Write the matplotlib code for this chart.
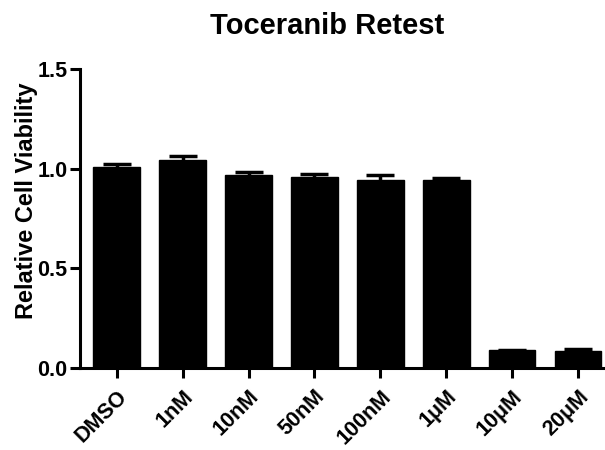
import numpy as np
import matplotlib
matplotlib.use("Agg")
import matplotlib.pyplot as plt

# Data
labels = ["DMSO", "1nM", "10nM", "50nM", "100nM", "1\u03bcM", "10\u03bcM", "20\u03bcM"]
viability = [1.007, 1.044, 0.967, 0.960, 0.943, 0.943, 0.090, 0.084]
sem = [0.015, 0.021, 0.016, 0.012, 0.027, 0.009, 0.003, 0.010]

plt.rcParams['font.family'] = ['Liberation Sans', 'DejaVu Sans']
plt.rcParams['font.weight'] = 'bold'

fig = plt.figure(figsize=(6.05, 4.5), dpi=100)
ax = fig.add_axes([0.132, 0.182, 0.868, 0.665])

x = np.arange(len(labels))
ax.bar(x, viability, width=0.71, color="black", edgecolor="black",
       yerr=sem, error_kw=dict(ecolor="black", elinewidth=2.5, capsize=10, capthick=2.5))

ax.set_ylim(0, 1.5)
ax.set_xlim(-0.56, 7.41)
ax.set_yticks([0.0, 0.5, 1.0, 1.5])
ax.set_yticklabels(["0.0", "0.5", "1.0", "1.5"], fontsize=15.5, fontweight="bold")
ax.set_xticks(x)
ax.set_xticklabels(labels, fontsize=15.5, fontweight="bold", rotation=45,
                   ha="right", rotation_mode="anchor")

for side in ["top", "right"]:
    ax.spines[side].set_visible(False)
for side in ["left", "bottom"]:
    ax.spines[side].set_linewidth(2.2)
ax.tick_params(axis="y", direction="out", length=7, width=2.2, pad=2)
ax.tick_params(axis="x", direction="out", length=7, width=2.2, pad=6)

ax.set_ylabel("Relative Cell Viability", fontsize=17, fontweight="bold")
ax.yaxis.set_label_coords(-0.08, 0.56)
fig.text(0.54, 0.942, "Toceranib Retest", fontsize=21, fontweight="bold",
         ha="center", va="center")

fig.savefig("out.png", dpi=100)
